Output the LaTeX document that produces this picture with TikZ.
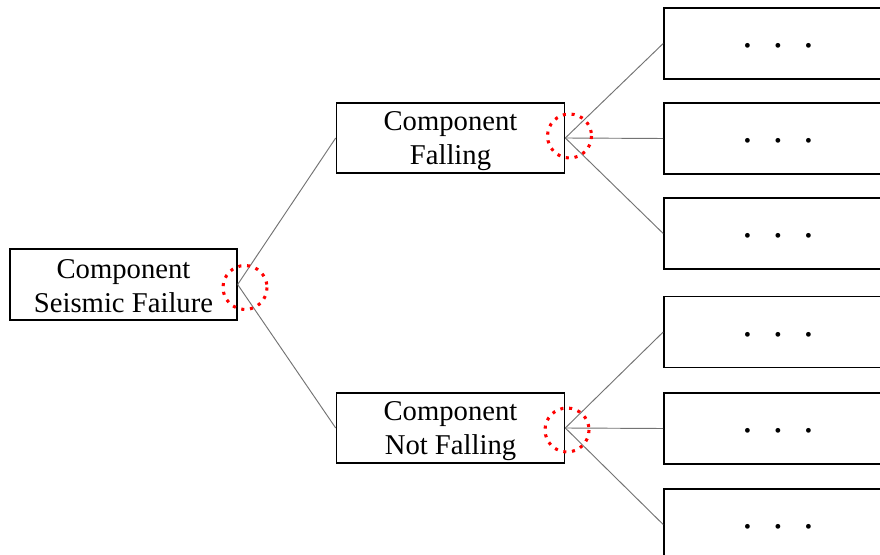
\documentclass[tikz,border=0pt]{standalone}
\usepackage{fontspec}
\setmainfont{Liberation Serif}
\begin{document}
\begin{tikzpicture}[x=0.75pt,y=-0.75pt,
  box/.style={draw=black,line width=1.2pt,fill=white,inner sep=0pt},
  boxtext/.style={inner sep=0pt,align=center,font=\fontsize{21.5}{25.5}\selectfont},
  midbox/.style={box,minimum width=171pt,minimum height=52.5pt},
  leafbox/.style={box,minimum width=171pt,minimum height=53pt},
  link/.style={draw=black!55,line width=0.7pt},
  ring/.style={draw=red,line width=2.3pt,dash pattern=on 2.3pt off 4.3pt},
  leafdots/.style={font=\bfseries\fontsize{22}{25}\selectfont}]
\useasboundingbox (0,0) rectangle (880,555);
\clip (0,0) rectangle (880,555);
\fill[white] (0,0) rectangle (880,555);

\node[box,minimum width=170pt,minimum height=53pt] (root) at (123.5,284.5) {};
\node[boxtext] (roott) at ([yshift=-1.5pt]root.center) {Component\\Seismic Failure};
\node[midbox] (fall) at (450.5,138) {};
\node[boxtext] (fallt) at ([yshift=-2.5pt]fall.center) {Component\\Falling};
\node[midbox] (nofall) at (450.5,428) {};
\node[boxtext] (nofallt) at ([yshift=-2.5pt]nofall.center) {Component\\Not Falling};

\node[leafbox] (l1) at (778,43.5) {};
\node[leafbox] (l2) at (778,138.5) {};
\node[leafbox] (l3) at (778,233.5) {};
\node[leafbox] (l4) at (778,332) {};
\node[leafbox] (l5) at (778,428.5) {};
\node[leafbox] (l6) at (778,524.5) {};

\foreach \n in {l1,l2,l3,l4,l5,l6}{
  \node[leafdots] (\n d) at ([yshift=-4.8pt]\n.center) {·\hspace{15.5pt}·\hspace{15.5pt}·};
}

\draw[link] (root.east) -- (fall.west);
\draw[link] (root.east) -- (nofall.west);
\draw[link] (fall.east) -- (l1.west);
\draw[link] (fall.east) -- (l2.west);
\draw[link] (fall.east) -- (l3.west);
\draw[link] (nofall.east) -- (l4.west);
\draw[link] (nofall.east) -- (l5.west);
\draw[link] (nofall.east) -- (l6.west);

\coordinate (c0) at (245,287.5);
\coordinate (c1) at (569.5,136);
\coordinate (c2) at (567,430);
\draw[ring] (c0) circle (22);
\draw[ring] (c1) circle (22);
\draw[ring] (c2) circle (22);
\end{tikzpicture}
\end{document}
